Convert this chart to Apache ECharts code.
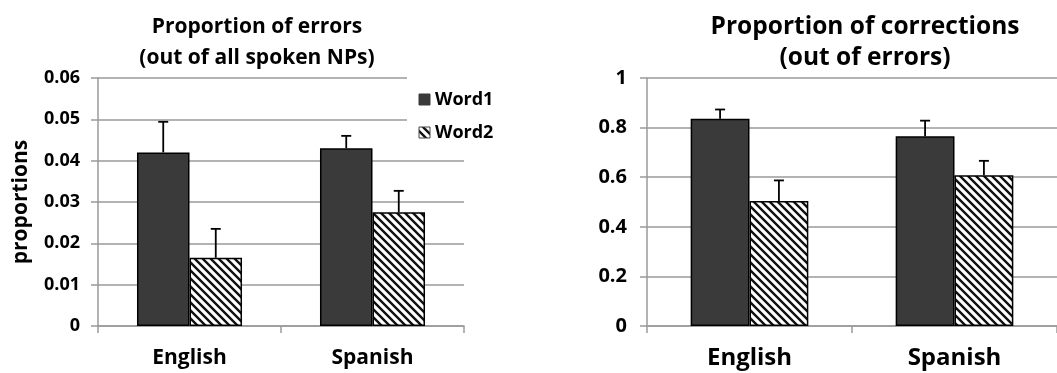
<!DOCTYPE html>
<html>
<head>
<meta charset="utf-8">
<script src="https://cdn.jsdelivr.net/npm/echarts@6/dist/echarts.min.js"></script>
<style>
  html, body { margin: 0; padding: 0; background: #fff; }
  #chart { width: 1057px; height: 373px; }
</style>
</head>
<body>
<div id="chart"></div>
<script>
// Categories and series values
const categories = ['English', 'Spanish'];
const seriesNames = ['Word1', 'Word2'];

// Proportion of errors (out of all spoken NPs)
const errorsWord1 = [0.042, 0.043];
const errorsWord1SE = [0.0074, 0.003];
const errorsWord2 = [0.0165, 0.0275];
const errorsWord2SE = [0.007, 0.0052];

// Proportion of corrections (out of errors)
const corrWord1 = [0.836, 0.765];
const corrWord1SE = [0.037, 0.063];
const corrWord2 = [0.504, 0.608];
const corrWord2SE = [0.083, 0.058];

// Axis ticks
const errorsTicks = { min: 0, max: 0.06, interval: 0.01 };
const corrTicks = { min: 0, max: 1, interval: 0.2 };

const FONT = '"Open Sans", "DejaVu Sans", sans-serif';
const GRID_COLOR = '#9a9a9a';
const DARK = '#3a3a3a';
const BAR_FRAC = 0.287; // width of one bar relative to its category band

// Diagonal hatch fill for Word2
function makeHatch() {
  const s = 8;
  const c = document.createElement('canvas');
  c.width = s; c.height = s;
  const g = c.getContext('2d');
  g.fillStyle = '#fff';
  g.fillRect(0, 0, s, s);
  g.strokeStyle = '#111';
  g.lineWidth = 2.4;
  g.beginPath();
  g.moveTo(-2, -2); g.lineTo(s + 2, s + 2);
  g.moveTo(-2, s - 2); g.lineTo(2, s + 2);
  g.moveTo(s - 2, -2); g.lineTo(s + 2, 2);
  g.stroke();
  return c;
}
const hatch = { image: makeHatch(), repeat: 'repeat' };
const fills = [DARK, hatch];

function errorBars(gridIdx, values, se, side) {
  return {
    type: 'custom',
    xAxisIndex: gridIdx,
    yAxisIndex: gridIdx,
    z: 5,
    silent: true,
    encode: { x: 0, y: 1 },
    data: values.map((v, i) => [i, v, se[i]]),
    renderItem(params, api) {
      const i = api.value(0);
      const v = api.value(1);
      const e = api.value(2);
      const band = api.size([1, 0])[0];
      const dx = side * band * BAR_FRAC / 2;
      const base = api.coord([i, v]);
      const top = api.coord([i, v + e]);
      const x = base[0] + dx;
      const style = { stroke: '#000', lineWidth: 1.8 };
      return {
        type: 'group',
        children: [
          { type: 'line', shape: { x1: x, y1: base[1], x2: x, y2: top[1] }, style },
          { type: 'line', shape: { x1: x - 5, y1: top[1], x2: x + 5, y2: top[1] }, style }
        ]
      };
    }
  };
}

function barSeries(gridIdx, name, values, fill) {
  return {
    type: 'bar',
    name,
    xAxisIndex: gridIdx,
    yAxisIndex: gridIdx,
    data: values,
    barGap: '0%',
    barCategoryGap: ((1 - 2 * BAR_FRAC) * 100).toFixed(1) + '%',
    itemStyle: { color: fill, borderColor: '#000', borderWidth: 1.5 },
    z: 3
  };
}

function xAxis(gridIdx, fontSize, margin) {
  return {
    type: 'category',
    gridIndex: gridIdx,
    data: categories,
    axisLine: { lineStyle: { color: GRID_COLOR, width: 1.5 } },
    axisTick: { show: true, interval: 0, length: 7, lineStyle: { color: GRID_COLOR, width: 1.5 } },
    axisLabel: { color: '#000', fontFamily: FONT, fontWeight: 'bold', fontSize, margin }
  };
}

function yAxis(gridIdx, ticks, fmt, fontSize, margin, extra) {
  return Object.assign({
    type: 'value',
    gridIndex: gridIdx,
    min: ticks.min,
    max: ticks.max,
    interval: ticks.interval,
    axisLine: { show: true, lineStyle: { color: GRID_COLOR, width: 1.5 } },
    axisTick: { show: true, length: 7, lineStyle: { color: GRID_COLOR, width: 1.5 } },
    splitLine: { show: true, lineStyle: { color: GRID_COLOR, width: 1.5 } },
    axisLabel: { color: '#000', fontFamily: FONT, fontWeight: 'bold', fontSize, margin, formatter: fmt }
  }, extra || {});
}

const titleStyle = (fontSize) => ({ color: '#000', fontFamily: FONT, fontWeight: 'bold', fontSize, lineHeight: 31 });

// Key for the left panel: white backing box over the upper gridlines, then swatch + label per series
const legendBox = { x: 407, y: 72, w: 70, h: 74 };
const legendElements = [
  { type: 'rect', z: 10, shape: { x: legendBox.x, y: legendBox.y, width: legendBox.w, height: legendBox.h },
    style: { fill: '#fff' } }
];
seriesNames.forEach((name, k) => {
  const top = 94 + k * 33;
  legendElements.push(
    { type: 'rect', z: 11, shape: { x: 419, y: top, width: 11, height: 11 },
      style: { fill: fills[k], stroke: k === 0 ? DARK : '#444', lineWidth: 1 } },
    { type: 'text', z: 11, x: 435, y: top + 5.5,
      style: { text: name, fill: '#000', font: 'bold 18px ' + FONT, verticalAlign: 'middle', align: 'left' } }
  );
});

const option = {
  animation: false,
  backgroundColor: '#fff',
  title: [
    { text: 'Proportion of errors\n(out of all spoken NPs)', left: 252, top: 7, textAlign: 'center', textStyle: titleStyle(21) },
    { text: 'Proportion of corrections\n(out of errors)', left: 860, top: 7, textAlign: 'center', textStyle: titleStyle(24.5) }
  ],
  graphic: legendElements,
  grid: [
    { left: 98, top: 78, width: 366, height: 248 },
    { left: 647, top: 78, width: 420, height: 248 }
  ],
  xAxis: [xAxis(0, 21, 22), xAxis(1, 24, 20)],
  yAxis: [
    yAxis(0, errorsTicks, v => (v === 0 ? '0' : v.toFixed(2)), 18, 18, {
      name: 'proportions',
      nameLocation: 'middle',
      nameRotate: 90,
      nameGap: 66,
      nameTextStyle: { color: '#000', fontFamily: FONT, fontWeight: 'bold', fontSize: 21 }
    }),
    yAxis(1, corrTicks, v => (v === 0 || v === 1 ? String(v) : v.toFixed(1)), 20, 20)
  ],
  series: [
    barSeries(0, seriesNames[0], errorsWord1, fills[0]),
    barSeries(0, seriesNames[1], errorsWord2, fills[1]),
    barSeries(1, seriesNames[0], corrWord1, fills[0]),
    barSeries(1, seriesNames[1], corrWord2, fills[1]),
    errorBars(0, errorsWord1, errorsWord1SE, -1),
    errorBars(0, errorsWord2, errorsWord2SE, 1),
    errorBars(1, corrWord1, corrWord1SE, -1),
    errorBars(1, corrWord2, corrWord2SE, 1)
  ]
};

const chart = echarts.init(document.getElementById('chart'), null, { renderer: 'canvas' });
chart.setOption(option);
</script>
</body>
</html>
